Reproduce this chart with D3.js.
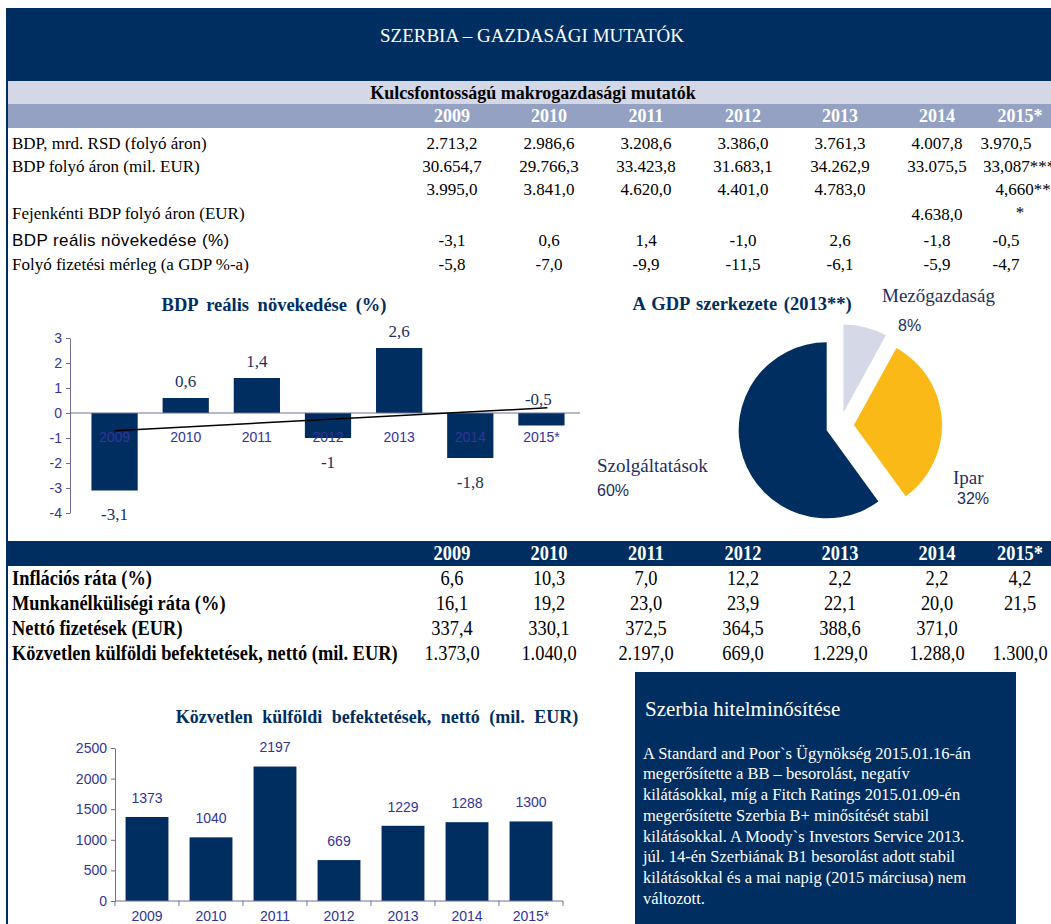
<!DOCTYPE html>
<head>
  <meta charset="utf-8">
  <style>
    body { margin: 0; background: #fff; }
    svg text { font-family: 'Liberation Serif', 'Times New Roman', serif; }
    svg .sans { font-family: 'Liberation Sans', Arial, sans-serif; }
  </style>
</head>
<body>
  <script src="https://cdn.jsdelivr.net/npm/d3@7"></script>
  <script>
    // ---- data ----
    const years = ["2009", "2010", "2011", "2012", "2013", "2014", "2015*"];

    const macroLabels = [
      "BDP, mrd. RSD (folyó áron)",
      "BDP folyó áron (mil. EUR)",
      "Fejenkénti BDP folyó áron (EUR)",
      "BDP reális növekedése (%)",
      "Folyó fizetési mérleg (a GDP %-a)"
    ];
    const gdpRsd = ["2.713,2", "2.986,6", "3.208,6", "3.386,0", "3.761,3", "4.007,8", "3.970,5"];
    const gdpEur = ["30.654,7", "29.766,3", "33.423,8", "31.683,1", "34.262,9", "33.075,5", "33,087***"];
    const gdpPerCapita = ["3.995,0", "3.841,0", "4.620,0", "4.401,0", "4.783,0", "4.638,0", "4,660***"];
    const gdpGrowthText = ["-3,1", "0,6", "1,4", "-1,0", "2,6", "-1,8", "-0,5"];
    const currentAccount = ["-5,8", "-7,0", "-9,9", "-11,5", "-6,1", "-5,9", "-4,7"];

    const otherLabels = [
      "Inflációs ráta (%)",
      "Munkanélküliségi ráta (%)",
      "Nettó fizetések (EUR)",
      "Közvetlen külföldi befektetések, nettó (mil. EUR)"
    ];
    const inflation = ["6,6", "10,3", "7,0", "12,2", "2,2", "2,2", "4,2"];
    const unemployment = ["16,1", "19,2", "23,0", "23,9", "22,1", "20,0", "21,5"];
    const netWages = ["337,4", "330,1", "372,5", "364,5", "388,6", "371,0", ""];
    const fdiText = ["1.373,0", "1.040,0", "2.197,0", "669,0", "1.229,0", "1.288,0", "1.300,0"];

    const gdpGrowth = [-3.1, 0.6, 1.4, -1.0, 2.6, -1.8, -0.5];
    const growthLabels = ["-3,1", "0,6", "1,4", "-1", "2,6", "-1,8", "-0,5"];
    const growthTicks = [-4, -3, -2, -1, 0, 1, 2, 3];

    const sectors = ["Mezőgazdaság", "Ipar", "Szolgáltatások"];
    const sectorShare = [8, 32, 60];

    const fdi = [1373, 1040, 2197, 669, 1229, 1288, 1300];
    const fdiTicks = [0, 500, 1000, 1500, 2000, 2500];

    const ratingTitle = "Szerbia hitelminősítése";
    const ratingLines = [
      "A Standard and Poor`s Ügynökség 2015.01.16-án",
      "megerősítette a BB – besorolást, negatív",
      "kilátásokkal, míg a Fitch Ratings 2015.01.09-én",
      "megerősítette Szerbia B+ minősítését stabil",
      "kilátásokkal. A Moody`s Investors Service 2013.",
      "júl. 14-én Szerbiának B1 besorolást adott stabil",
      "kilátásokkal és a mai napig (2015 márciusa) nem",
      "változott."
    ];

    // ---- colours ----
    const navy = "#002e61";
    const axisBlue = "#333399";
    const axisLine = "#6f6f9a";
    const labelNavy = "#1c2f5e";

    const width = 1051, height = 924;
    const svg = d3.select("body").append("svg")
      .attr("width", width).attr("height", height);

    // page frame + header
    svg.append("rect").attr("x", 6).attr("y", 8).attr("width", 2).attr("height", height - 8).attr("fill", navy);
    svg.append("rect").attr("x", 8).attr("y", 8).attr("width", width - 8).attr("height", 73).attr("fill", navy);
    svg.append("text").attr("x", 532).attr("y", 35).attr("dy", "0.35em")
      .attr("text-anchor", "middle").attr("fill", "#fff").attr("font-size", 19)
      .text("SZERBIA – GAZDASÁGI MUTATÓK");

    svg.append("rect").attr("x", 8).attr("y", 81).attr("width", width - 8).attr("height", 23).attr("fill", "#d3d7e6");
    svg.append("text").attr("x", 533).attr("y", 93).attr("dy", "0.35em")
      .attr("text-anchor", "middle").attr("font-weight", "bold").attr("font-size", 18)
      .text("Kulcsfontosságú makrogazdasági mutatók");
    svg.append("rect").attr("x", 8).attr("y", 104).attr("width", width - 8).attr("height", 24).attr("fill", "#94a1c3");

    // table columns
    const colX = d3.scalePoint().domain(years.slice(0, 6)).range([452, 937]);
    const cx = (y) => y === "2015*" ? 1020 : colX(y);
    const valX = (y) => y === "2015*" ? 1006 : colX(y);

    function yearHeader(yc, size) {
      svg.append("g").selectAll("text").data(years).join("text")
        .attr("x", cx).attr("y", yc).attr("dy", "0.35em")
        .attr("text-anchor", "middle").attr("fill", "#fff")
        .attr("font-weight", "bold").attr("font-size", size)
        .text(d => d);
    }
    yearHeader(116, 18);

    // table 1 (overflowing last-column cells are clipped by the neighbour cell)
    svg.append("clipPath").attr("id", "lastcol")
      .append("rect").attr("x", 984).attr("y", 0).attr("width", 80).attr("height", height);

    const t1 = [gdpRsd, gdpEur, gdpPerCapita, gdpGrowthText, currentAccount];
    const t1Rows = [143, 166, 0, 240, 264];
    t1.forEach((vals, i) => {
      const labelY = i === 2 ? 213 : t1Rows[i];
      svg.append("text").attr("x", 12).attr("y", labelY).attr("dy", "0.35em")
        .attr("class", i === 3 ? "sans" : null)
        .attr("font-size", 17)
        .attr("letter-spacing", i === 3 ? 0.4 : 0)
        .text(macroLabels[i]);
      const g = svg.append("g").attr("font-size", 17).attr("text-anchor", "middle");
      vals.forEach((v, j) => {
        const yr = years[j];
        if (i === 2 && yr === "2015*") {
          g.append("text").attr("x", 1023).attr("y", 189).attr("dy", "0.35em").text(v.slice(0, -1))
            .attr("clip-path", "url(#lastcol)");
          g.append("text").attr("x", 1020).attr("y", 212).attr("dy", "0.35em").text("*");
          return;
        }
        let yy = t1Rows[i];
        if (i === 2) yy = yr === "2014" ? 214 : 189;
        const overflow = yr === "2015*" && i === 1;
        g.append("text").attr("x", overflow ? 1019 : valX(yr)).attr("y", yy).attr("dy", "0.35em")
          .attr("clip-path", overflow ? "url(#lastcol)" : null)
          .text(v);
      });
    });

    // ---- chart 1: GDP real growth ----
    const x1 = d3.scaleBand().domain(years).range([79, 577]).paddingInner(0.35).paddingOuter(0.175);
    const y1 = d3.scaleLinear().domain([-4, 3]).range([513, 338]);

    svg.append("text").attr("x", 274).attr("y", 305).attr("dy", "0.35em")
      .attr("text-anchor", "middle").attr("font-weight", "bold").attr("font-size", 18.5)
      .attr("fill", navy).attr("word-spacing", 4)
      .text("BDP reális növekedése (%)");

    svg.append("g").selectAll("rect").data(gdpGrowth).join("rect")
      .attr("x", (d, i) => x1(years[i]))
      .attr("width", x1.bandwidth())
      .attr("y", d => y1(Math.max(0, d)))
      .attr("height", d => Math.abs(y1(d) - y1(0)))
      .attr("fill", navy);

    const yAxis1 = svg.append("g").attr("transform", "translate(70,0)")
      .call(d3.axisLeft(y1).tickValues(growthTicks).tickSize(4).tickSizeOuter(0).tickFormat(d3.format("d")));
    yAxis1.select(".domain").attr("stroke", axisLine);
    yAxis1.selectAll(".tick line").attr("stroke", axisLine);
    yAxis1.selectAll(".tick text").attr("class", "sans").attr("font-size", 14).attr("fill", axisBlue)
      .attr("x", -8).text(d => d < 0 ? "-" + Math.abs(d) : d);

    svg.append("line").attr("x1", 70).attr("x2", 580)
      .attr("y1", y1(0)).attr("y2", y1(0)).attr("stroke", axisLine);

    svg.append("g").selectAll("text").data(years).join("text")
      .attr("class", "sans").attr("font-size", 14).attr("fill", axisBlue)
      .attr("text-anchor", "middle")
      .attr("x", d => x1(d) + x1.bandwidth() / 2)
      .attr("y", y1(0) + 24).attr("dy", "0.35em")
      .text(d => d);

    // linear trend line over categories
    const n = gdpGrowth.length;
    const mx = (n - 1) / 2, my = d3.mean(gdpGrowth);
    const slope = d3.sum(gdpGrowth, (v, i) => (i - mx) * (v - my)) / d3.sum(gdpGrowth, (v, i) => (i - mx) * (i - mx));
    const trendAt = i => my + slope * (i - mx);
    svg.append("line")
      .attr("x1", x1(years[0]) + x1.bandwidth() / 2).attr("y1", y1(trendAt(0)))
      .attr("x2", x1(years[n - 1]) + x1.bandwidth() / 2 + 6).attr("y2", y1(trendAt(n - 1 + 6 / x1.step())))
      .attr("stroke", "#000").attr("stroke-width", 1.5);

    svg.append("g").selectAll("text").data(gdpGrowth).join("text")
      .attr("font-size", 17).attr("fill", labelNavy).attr("text-anchor", "middle")
      .attr("x", (d, i) => x1(years[i]) + x1.bandwidth() / 2 - (i === n - 1 ? 3 : 0))
      .attr("y", (d, i) => i === n - 1 ? y1(0) - 14 : (d >= 0 ? y1(d) - 17 : y1(d) + 24))
      .attr("dy", "0.35em")
      .text((d, i) => growthLabels[i]);

    // ---- pie: GDP structure ----
    svg.append("text").attr("x", 742).attr("y", 304).attr("dy", "0.35em")
      .attr("text-anchor", "middle").attr("font-weight", "bold").attr("font-size", 18.5)
      .attr("fill", navy).attr("word-spacing", 2).text("A GDP szerkezete (2013**)");

    const pieColors = ["#d5d8e6", "#fbb918", navy];
    const pie = d3.pie().sort(null)(sectorShare);
    const arc = d3.arc().innerRadius(0).outerRadius(88);
    const pieG = svg.append("g").attr("transform", "translate(840,426)");
    pieG.selectAll("path").data(pie).join("path")
      .attr("d", arc)
      .attr("fill", (d, i) => pieColors[i])
      .attr("transform", d => {
        const a = (d.startAngle + d.endAngle) / 2;
        return `translate(${14 * Math.sin(a)},${-14 * Math.cos(a)})`;
      });

    const pieLabelPos = [[882, 295, 898, 325], [953, 477, 957, 498], [597, 465, 597, 490]];
    sectors.forEach((s, i) => {
      const p = pieLabelPos[i];
      svg.append("text").attr("x", p[0]).attr("y", p[1]).attr("dy", "0.35em")
        .attr("font-size", 19).attr("fill", labelNavy).text(s);
      svg.append("text").attr("class", "sans").attr("x", p[2]).attr("y", p[3]).attr("dy", "0.35em")
        .attr("font-size", 16).attr("fill", labelNavy).text(sectorShare[i] + "%");
    });

    // ---- table 2 ----
    svg.append("rect").attr("x", 8).attr("y", 541).attr("width", width - 8).attr("height", 25).attr("fill", navy);
    // condensed text helper
    const narrow = (sel, x, y) => sel.attr("transform", `translate(${x},${y}) scale(0.92,1)`);
    const hdr2 = svg.append("g");
    years.forEach(yr => {
      narrow(hdr2.append("text"), cx(yr), 553).attr("dy", "0.35em")
        .attr("text-anchor", "middle").attr("fill", "#fff")
        .attr("font-weight", "bold").attr("font-size", 20).text(yr);
    });
    const t2 = [inflation, unemployment, netWages, fdiText];
    const t2Rows = [578, 603, 628, 653];
    t2.forEach((vals, i) => {
      narrow(svg.append("text"), 12, t2Rows[i]).attr("dy", "0.35em")
        .attr("font-weight", "bold").attr("font-size", 20)
        .text(otherLabels[i]);
      const g = svg.append("g");
      vals.forEach((v, j) => {
        narrow(g.append("text"), years[j] === "2015*" ? 1020 : colX(years[j]), t2Rows[i])
          .attr("dy", "0.35em").attr("text-anchor", "middle").attr("font-size", 20)
          .text(v);
      });
    });

    // ---- chart 2: FDI ----
    svg.append("text").attr("x", 377).attr("y", 717).attr("dy", "0.35em")
      .attr("text-anchor", "middle").attr("font-weight", "bold").attr("font-size", 18)
      .attr("fill", navy).attr("word-spacing", 5)
      .text("Közvetlen külföldi befektetések, nettó (mil. EUR)");

    const x2 = d3.scaleBand().domain(years).range([115, 563]).paddingInner(0.33).paddingOuter(0.165);
    const y2 = d3.scaleLinear().domain([0, 2500]).range([901, 748]);

    svg.append("g").selectAll("rect").data(fdi).join("rect")
      .attr("x", (d, i) => x2(years[i]))
      .attr("width", x2.bandwidth())
      .attr("y", d => y2(d))
      .attr("height", d => y2(0) - y2(d))
      .attr("fill", navy);

    const yAxis2 = svg.append("g").attr("transform", "translate(115,0)")
      .call(d3.axisLeft(y2).tickValues(fdiTicks).tickSize(4).tickSizeOuter(0).tickFormat(d3.format("d")));
    yAxis2.select(".domain").attr("stroke", axisLine);
    yAxis2.selectAll(".tick line").attr("stroke", axisLine);
    yAxis2.selectAll(".tick text").attr("class", "sans").attr("font-size", 14).attr("fill", axisBlue).attr("x", -8);

    const xAxis2 = svg.append("g").attr("transform", `translate(0,${y2(0)})`);
    xAxis2.append("line").attr("x1", 115).attr("x2", 563).attr("stroke", axisLine);
    xAxis2.selectAll("line.tk").data(d3.range(years.length + 1)).join("line").attr("class", "tk")
      .attr("x1", i => 115 + i * x2.step()).attr("x2", i => 115 + i * x2.step())
      .attr("y1", 0).attr("y2", 5).attr("stroke", axisLine);
    xAxis2.selectAll("text").data(years).join("text")
      .attr("class", "sans").attr("font-size", 14).attr("fill", axisBlue).attr("text-anchor", "middle")
      .attr("x", d => x2(d) + x2.bandwidth() / 2).attr("y", 15).attr("dy", "0.35em")
      .text(d => d);

    svg.append("g").selectAll("text").data(fdi).join("text")
      .attr("class", "sans").attr("font-size", 14).attr("fill", axisBlue).attr("text-anchor", "middle")
      .attr("x", (d, i) => x2(years[i]) + x2.bandwidth() / 2)
      .attr("y", d => y2(d) - 19).attr("dy", "0.35em")
      .text(d => d);

    // ---- rating box ----
    svg.append("rect").attr("x", 635).attr("y", 672).attr("width", 381).attr("height", height - 672).attr("fill", navy);
    svg.append("text").attr("x", 645).attr("y", 709).attr("dy", "0.35em")
      .attr("fill", "#fff").attr("font-size", 21).text(ratingTitle);
    svg.append("g").selectAll("text").data(ratingLines).join("text")
      .attr("x", 643).attr("y", (d, i) => 753 + i * 20.7).attr("dy", "0.35em")
      .attr("fill", "#fff").attr("font-size", 16.5)
      .text(d => d);
  </script>
</body>
